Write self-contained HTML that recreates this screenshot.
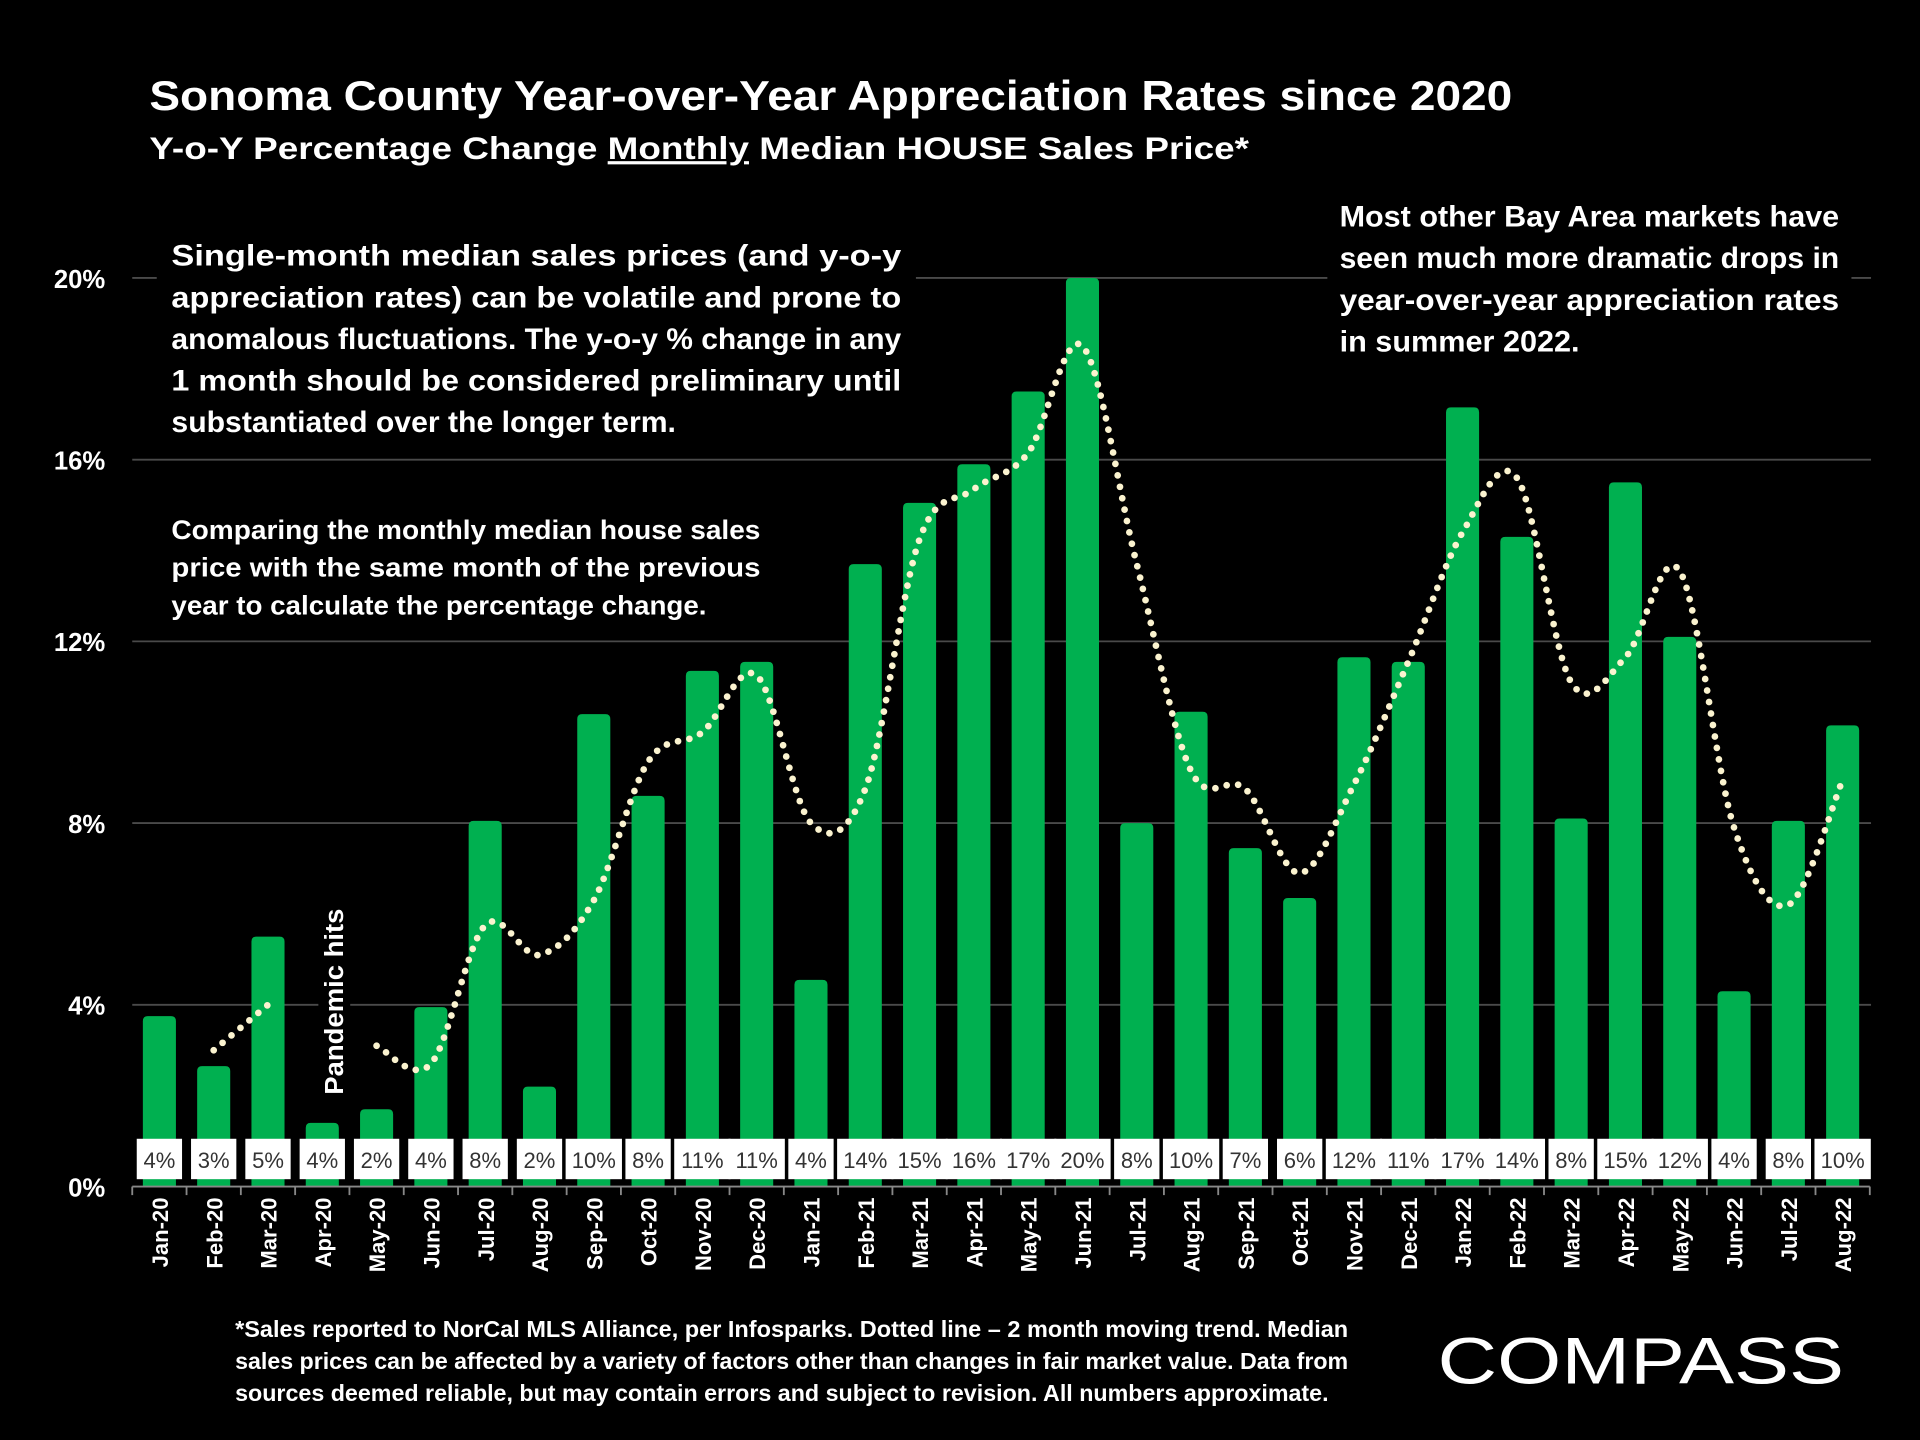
<!DOCTYPE html>
<html><head><meta charset="utf-8"><style>
html,body{margin:0;padding:0;background:#000;}
svg{display:block;}
text{font-family:"Liberation Sans",sans-serif;font-weight:bold;fill:#fff;}
</style></head><body>
<svg id="chart" width="1920" height="1440" viewBox="0 0 1568 1176" xmlns="http://www.w3.org/2000/svg">
<rect x="0" y="0" width="1568" height="1176" fill="#000"/>
<text x="122" y="90" font-size="34" textLength="1113" lengthAdjust="spacingAndGlyphs">Sonoma County Year-over-Year Appreciation Rates since 2020</text>
<text x="122" y="130" font-size="26" textLength="898" lengthAdjust="spacingAndGlyphs">Y-o-Y Percentage Change <tspan text-decoration="underline">Monthly</tspan> Median HOUSE Sales Price*</text>
<g id="grid"></g>
<g id="yaxis"></g>
<g id="bars"></g>
<g id="trend"></g>
<g id="labels"></g>
<g id="xaxis"></g>

<g>
<rect x="128" y="186" width="620" height="172" fill="#000"/>
<text x="140" y="217" font-size="24" textLength="596" lengthAdjust="spacingAndGlyphs">Single-month median sales prices (and y-o-y</text>
<text x="140" y="251" font-size="24" textLength="596" lengthAdjust="spacingAndGlyphs">appreciation rates) can be volatile and prone to</text>
<text x="140" y="285" font-size="24" textLength="596" lengthAdjust="spacingAndGlyphs">anomalous fluctuations. The y-o-y % change in any</text>
<text x="140" y="319" font-size="24" textLength="596" lengthAdjust="spacingAndGlyphs">1 month should be considered preliminary until</text>
<text x="140" y="353" font-size="24" textLength="412" lengthAdjust="spacingAndGlyphs">substantiated over the longer term.</text>
</g>
<g>
<rect x="128" y="414" width="500" height="94" fill="#000"/>
<text x="140" y="440" font-size="22" textLength="481" lengthAdjust="spacingAndGlyphs">Comparing the monthly median house sales</text>
<text x="140" y="471" font-size="22" textLength="481" lengthAdjust="spacingAndGlyphs">price with the same month of the previous</text>
<text x="140" y="502" font-size="22" textLength="437" lengthAdjust="spacingAndGlyphs">year to calculate the percentage change.</text>
</g>
<g>
<rect x="1084" y="154" width="428" height="140" fill="#000"/>
<text x="1094" y="185" font-size="24" textLength="408" lengthAdjust="spacingAndGlyphs">Most other Bay Area markets have</text>
<text x="1094" y="219" font-size="24" textLength="408" lengthAdjust="spacingAndGlyphs">seen much more dramatic drops in</text>
<text x="1094" y="253" font-size="24" textLength="408" lengthAdjust="spacingAndGlyphs">year-over-year appreciation rates</text>
<text x="1094" y="287" font-size="24" textLength="196" lengthAdjust="spacingAndGlyphs">in summer 2022.</text>
</g>
<g>
<rect x="260" y="740" width="26" height="156" fill="#000"/>
<text transform="translate(280,894) rotate(-90)" font-size="21" textLength="152" lengthAdjust="spacingAndGlyphs">Pandemic hits</text>
</g>
<g>
<text x="192" y="1092" font-size="19" textLength="909" lengthAdjust="spacingAndGlyphs">*Sales reported to NorCal MLS Alliance, per Infosparks. Dotted line – 2 month moving trend. Median</text>
<text x="192" y="1118" font-size="19" textLength="909" lengthAdjust="spacingAndGlyphs">sales prices can be affected by a variety of factors other than changes in fair market value. Data from</text>
<text x="192" y="1144" font-size="19" textLength="893" lengthAdjust="spacingAndGlyphs">sources deemed reliable, but may contain errors and subject to revision. All numbers approximate.</text>
</g>
<g>
<text x="1174" y="1130" font-size="54" style="font-weight:normal" textLength="332" lengthAdjust="spacingAndGlyphs">COMPASS</text>
</g>
</svg>
<script>
const categories = ["Jan-20","Feb-20","Mar-20","Apr-20","May-20","Jun-20","Jul-20","Aug-20","Sep-20","Oct-20","Nov-20","Dec-20","Jan-21","Feb-21","Mar-21","Apr-21","May-21","Jun-21","Jul-21","Aug-21","Sep-21","Oct-21","Nov-21","Dec-21","Jan-22","Feb-22","Mar-22","Apr-22","May-22","Jun-22","Jul-22","Aug-22"];
const values = [3.75,2.65,5.5,1.4,1.7,3.95,8.05,2.2,10.4,8.6,11.35,11.55,4.55,13.7,15.05,15.9,17.5,20.0,8.0,10.45,7.45,6.35,11.65,11.55,17.15,14.3,8.1,15.5,12.1,4.3,8.05,10.15];
const valueLabels = ["4%","3%","5%","4%","2%","4%","8%","2%","10%","8%","11%","11%","4%","14%","15%","16%","17%","20%","8%","10%","7%","6%","12%","11%","17%","14%","8%","15%","12%","4%","8%","10%"];
const trend = [null,3.0,4.0,null,3.1,2.7,5.75,5.1,6.3,9.35,10.0,11.25,8.0,8.75,14.25,15.35,16.15,18.5,13.7,9.15,8.75,6.9,8.85,11.55,14.4,15.6,11.1,11.65,13.55,7.9,6.2,8.95];
const yTicks = [0,4,8,12,16,20];
const yTickLabels = ["0%","4%","8%","12%","16%","20%"];

const NS = "http://www.w3.org/2000/svg";
const X0 = 108, X1 = 1527, Y0 = 969, PER = 37.1;
const step = (X1 - X0) / categories.length;
const xc = i => X0 + step * (i + 0.5);
const y = v => Y0 - v * PER;
function mk(tag, attrs, parent){const e=document.createElementNS(NS,tag);for(const k in attrs)e.setAttribute(k,attrs[k]);parent.appendChild(e);return e;}

const grid=document.getElementById('grid'), yaxis=document.getElementById('yaxis');
yTicks.forEach((t,i)=>{
  if(t>0){const l=mk('line',{x1:X0,x2:X1+1,y1:y(t),y2:y(t),stroke:'#4a4a4a','stroke-width':1.5},grid);
  
  }
  const tx=mk('text',{x:86,y:y(t)+8,'font-size':21,'text-anchor':'end'},yaxis);
  tx.textContent=yTickLabels[i];
  
  
});

const bars=document.getElementById('bars'), bw=27;
values.forEach((v,i)=>{
  const h=v*PER, x=xc(i)-bw/2, top=y(v), r=Math.min(4,h/2);
  const p=mk('path',{d:`M${x},${Y0} L${x},${top+r} Q${x},${top} ${x+r},${top} L${x+bw-r},${top} Q${x+bw},${top} ${x+bw},${top+r} L${x+bw},${Y0} Z`,fill:'#00b050'},bars);
  
  
});

const tg=document.getElementById('trend');
let segs=[],cur=[];
trend.forEach((v,i)=>{if(v===null){if(cur.length)segs.push(cur);cur=[];}else cur.push([xc(i),y(v)]);});
if(cur.length)segs.push(cur);
segs.forEach(pts=>{
  if(pts.length<2)return;
  let d=`M${pts[0][0]},${pts[0][1]}`;
  for(let i=0;i<pts.length-1;i++){
    const p0=pts[Math.max(0,i-1)],p1=pts[i],p2=pts[i+1],p3=pts[Math.min(pts.length-1,i+2)];
    const c1=[p1[0]+(p2[0]-p0[0])/6,p1[1]+(p2[1]-p0[1])/6];
    const c2=[p2[0]-(p3[0]-p1[0])/6,p2[1]-(p3[1]-p1[1])/6];
    d+=` C${c1[0]},${c1[1]} ${c2[0]},${c2[1]} ${p2[0]},${p2[1]}`;
  }
  const p=mk('path',{d,fill:'none',stroke:'#fbf3cf','stroke-width':5.5,'stroke-linecap':'round','stroke-dasharray':'0 9.5'},tg);
  
  
});

const lg=document.getElementById('labels');
valueLabels.forEach((s,i)=>{
  const w=s.length>2?46:37;
  const r=mk('rect',{x:xc(i)-w/2,y:930,width:w,height:33,fill:'#fff'},lg);
  
  
  const t=mk('text',{x:xc(i),y:954,'font-size':18,'text-anchor':'middle',style:'fill:#333;font-weight:normal'},lg);
  t.textContent=s;
  
  
});

const xa=document.getElementById('xaxis');
mk('line',{x1:X0,x2:X1,y1:Y0,y2:Y0,stroke:'#888','stroke-width':1.5},xa);
for(let i=0;i<=categories.length;i++){mk('line',{x1:X0+step*i,x2:X0+step*i,y1:Y0,y2:Y0+7,stroke:'#888','stroke-width':1.5},xa);}
categories.forEach((c,i)=>{
  const t=mk('text',{transform:`translate(${xc(i)+7},${978}) rotate(-90)`,'font-size':18,'text-anchor':'end'},xa);
  t.textContent=c;
  
  
});
</script>
</body></html>
